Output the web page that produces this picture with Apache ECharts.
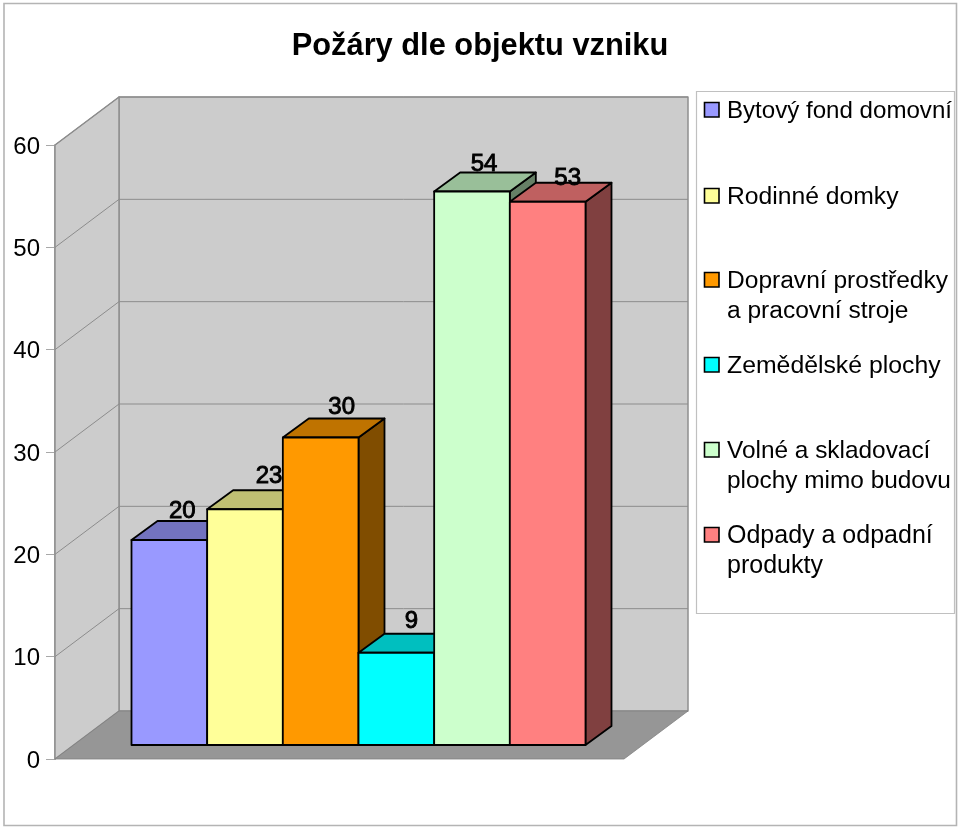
<!DOCTYPE html>
<html>
<head>
<meta charset="utf-8">
<style>html,body{margin:0;padding:0;background:#fff}#c{width:960px;height:829px}</style>
<script src="https://cdn.jsdelivr.net/npm/echarts@6/dist/echarts.min.js"></script>
</head>
<body>
<div id="c"></div>
<script>
const titleText = 'Požáry dle objektu vzniku';
const categories = ['Bytový fond domovní', 'Rodinné domky', 'Dopravní prostředky\na pracovní stroje', 'Zemědělské plochy', 'Volné a skladovací\nplochy mimo budovu', 'Odpady a odpadní\nprodukty'];
const values = [20, 23, 30, 9, 54, 53];
const yTicks = [0, 10, 20, 30, 40, 50, 60];
const colors = ['#9999ff', '#ffff99', '#ff9900', '#00ffff', '#ccffcc', '#ff8080'];
const topColors = ['#7373bf', '#bfbf73', '#bf7300', '#00bfbf', '#99bf99', '#bf6060'];
const sideColors = ['#4d4d80', '#80804d', '#804d00', '#008080', '#668066', '#804040'];

const FONT = '"Liberation Sans", Arial, sans-serif';
const WALL = { dx: 64, dy: -48 };
const BAR = { dx: 26, dy: -19 };
const LABEL_SHIFT = [[13, -10], [24, -14], [21, -11], [15, -12], [12, -8], [20, -4]];
const LEGEND_Y = [110, 196, 280, 365, 450, 535];
const LEGEND_SIZE = [24.1, 24.7, 24.55, 24.8, 24.4, 25];

function poly(points, fill, stroke, lw) {
  return { type: 'polygon', shape: { points }, style: { fill, stroke, lineWidth: lw, lineJoin: 'round' } };
}

const wallsRender = (params, api) => {
  const bl = api.coord([0, 0]), tl = api.coord([0, 60]), br = api.coord([1, 0]);
  const o = (p) => [p[0] + WALL.dx, p[1] + WALL.dy];
  const edge = '#8e8e8e';
  return {
    type: 'group',
    children: [
      poly([o(tl), [o(br)[0], o(tl)[1]], o(br), o(bl)], '#cccccc', edge, 1.5),
      poly([tl, o(tl), o(bl), bl], '#cccccc', edge, 1.5),
      poly([bl, br, o(br), o(bl)], '#969696', '#808080', 0.8)
    ]
  };
};

const gridRender = (params, api) => {
  const t = api.value(1);
  const a = api.coord([0, t]), b = api.coord([1, t]);
  return {
    type: 'polyline',
    shape: { points: [a, [a[0] + WALL.dx, a[1] + WALL.dy], [b[0] + WALL.dx, b[1] + WALL.dy]] },
    style: { fill: 'none', stroke: '#8c8c8c', lineWidth: 1 }
  };
};

const barRender = (params, api) => {
  const i = api.value(0), v = api.value(1);
  const base = api.coord([i, 0]), top = api.coord([i, v]);
  const w = api.size([1, 0])[0];
  const l = base[0] - w / 2, r = base[0] + w / 2, yb = base[1], yt = top[1];
  const dx = BAR.dx, dy = BAR.dy;
  const lw = 1.8, k = '#000000';
  return {
    type: 'group',
    children: [
      poly([[r, yt], [r + dx, yt + dy], [r + dx, yb + dy], [r, yb]], sideColors[i], k, lw),
      poly([[l, yt], [l + dx, yt + dy], [r + dx, yt + dy], [r, yt]], topColors[i], k, lw),
      poly([[l, yt], [r, yt], [r, yb], [l, yb]], colors[i], k, lw)
    ]
  };
};

const labelRender = (params, api) => {
  const i = api.value(0), v = api.value(1);
  const top = api.coord([i, v]);
  return {
    type: 'text',
    x: top[0] + LABEL_SHIFT[i][0],
    y: top[1] + BAR.dy + LABEL_SHIFT[i][1],
    style: {
      text: String(v), fill: '#000', font: '24px ' + FONT,
      align: 'center', verticalAlign: 'middle', stroke: '#000', lineWidth: 0.9
    }
  };
};

const legendGraphics = [{
  type: 'rect', shape: { x: 696.5, y: 91.5, width: 258, height: 522 },
  style: { fill: '#fff', stroke: '#c0c0c0', lineWidth: 1.2 }
}];
categories.forEach((name, i) => {
  legendGraphics.push({
    type: 'rect', shape: { x: 704.5, y: LEGEND_Y[i] - 7.5, width: 14.5, height: 14.5 },
    style: { fill: colors[i], stroke: '#000', lineWidth: 1.6 }
  });
  legendGraphics.push({
    type: 'text', x: 727, y: LEGEND_Y[i] - 14,
    style: { text: name, fill: '#000', font: LEGEND_SIZE[i] + 'px ' + FONT, lineHeight: 30, align: 'left', verticalAlign: 'top' }
  });
});

const chart = echarts.init(document.getElementById('c'), null, { renderer: 'canvas' });
chart.setOption({
  animation: false,
  backgroundColor: '#fff',
  title: {
    text: titleText, left: 'center', top: 26,
    textStyle: { fontFamily: FONT, fontSize: 30.8, fontWeight: 'bold', color: '#000' }
  },
  graphic: [
    { type: 'rect', shape: { x: 4, y: 3.5, width: 952.5, height: 822 }, style: { fill: 'none', stroke: '#b4b4b4', lineWidth: 1.6 } },
    ...legendGraphics
  ],
  grid: [
    { left: 55, top: 145, width: 569, height: 614 },
    { left: 131.5, top: 130, width: 454, height: 615 }
  ],
  xAxis: [
    { type: 'value', gridIndex: 0, min: 0, max: 1, show: false },
    { type: 'category', gridIndex: 1, data: categories, show: false }
  ],
  yAxis: [
    {
      type: 'value', gridIndex: 0, min: 0, max: 60, interval: 10,
      axisLine: { show: true, lineStyle: { color: '#8e8e8e', width: 1.5 } },
      axisTick: { show: true, length: 9, lineStyle: { color: '#a8a8a8', width: 1 } },
      splitLine: { show: false },
      axisLabel: {
        margin: 15, color: '#000', fontFamily: FONT, fontSize: 24,
        formatter: '{t|{value}}',
        rich: { t: { color: '#000', fontFamily: FONT, fontSize: 24, padding: [4, 0, 0, 0] } }
      }
    },
    { type: 'value', gridIndex: 1, min: 0, max: 60, show: false }
  ],
  series: [
    { type: 'custom', xAxisIndex: 0, yAxisIndex: 0, z: 1, silent: true, renderItem: wallsRender, data: [[0, 60]] },
    { type: 'custom', xAxisIndex: 0, yAxisIndex: 0, z: 2, silent: true, renderItem: gridRender, data: yTicks.slice(1).map(t => [0, t]) },
    { type: 'custom', xAxisIndex: 1, yAxisIndex: 1, z: 3, silent: true, renderItem: barRender, data: values.map((v, i) => [i, v]) },
    { type: 'custom', xAxisIndex: 1, yAxisIndex: 1, z: 4, silent: true, renderItem: labelRender, data: values.map((v, i) => [i, v]) }
  ]
});
</script>
</body>
</html>
